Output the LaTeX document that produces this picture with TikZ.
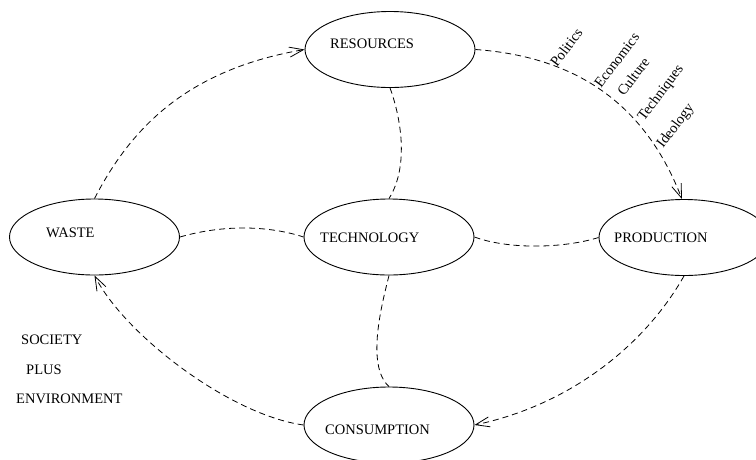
\documentclass[tikz,border=0pt]{standalone}
\usepackage{fontspec}
\setmainfont{Liberation Serif}
\usetikzlibrary{arrows.meta}
\usetikzlibrary{shapes.geometric}

\begin{document}
\begin{tikzpicture}[
            x=1pt, y=-1pt,
            stage/.style={
                ellipse,
                draw,
                line width=0.9pt,
                minimum width=170pt,
                minimum height=76pt,
                inner sep=0pt
            },
            caption/.style={
                anchor=west,
                inner sep=0pt,
                font=\fontsize{14.5}{17}\selectfont
            },
            factor/.style={
                rotate=53,
                anchor=base west,
                inner sep=0pt,
                font=\fontsize{14.5}{17}\selectfont
            },
            link/.style={
                line width=0.8pt,
                dash pattern=on 6pt off 4pt
            },
            flow/.style={
                link,
                -{Straight Barb[length=14pt,width=10pt]}
            }
        ]
        \useasboundingbox (0,0) rectangle (756,459);
        \node[stage] (resources) at (390,49.5) {};
        \node[stage] (waste) at (94.5,237) {};
        \node[stage] (technology) at (389,237) {};
        \node[stage] (production) at (684,237.5) {};
        \node[stage] (consumption) at (389,425) {};
        \node[caption] (resources-text) at (330,44) {RESOURCES};
        \node[caption] (waste-text) at (46,233) {WASTE};
        \node[caption] (technology-text) at (320,238) {TECHNOLOGY};
        \node[caption] (production-text) at (614,238) {PRODUCTION};
        \node[caption] (consumption-text) at (325,430) {CONSUMPTION};
        \node[caption] (society) at (21,340) {SOCIETY};
        \node[caption] (plus) at (26,370) {PLUS};
        \node[caption] (environment) at (16,399) {ENVIRONMENT};
        \foreach \word/\px/\py in {Politics/557/68, Economics/601/89, Culture/624/97, Techniques/644/122, Ideology/663/149} {
            \node[factor] (\word) at (\px,\py) {\word};
        }
        \draw[flow] (waste.north) .. controls (130,130) and (185,70) .. (resources.west);
        \draw[flow] (resources.east) .. controls (595,58) and (652,122) .. (production.93);
        \draw[flow] (production.south) .. controls (645,345) and (570,405) .. (consumption.east);
        \draw[flow] (consumption.west) .. controls (230,415) and (125,335) .. (waste.south);
        \draw[link] (waste.east) .. controls (225,224) and (270,226) .. (technology.west);
        \draw[link] (technology.east) .. controls (510,250) and (565,248) .. (production.west);
        \draw[link] (resources.south) .. controls (400,115) and (410,165) .. (technology.north);
        \draw[link] (technology.south) .. controls (383,300) and (365,365) .. (consumption.north);
        \end{tikzpicture}
\end{document}
